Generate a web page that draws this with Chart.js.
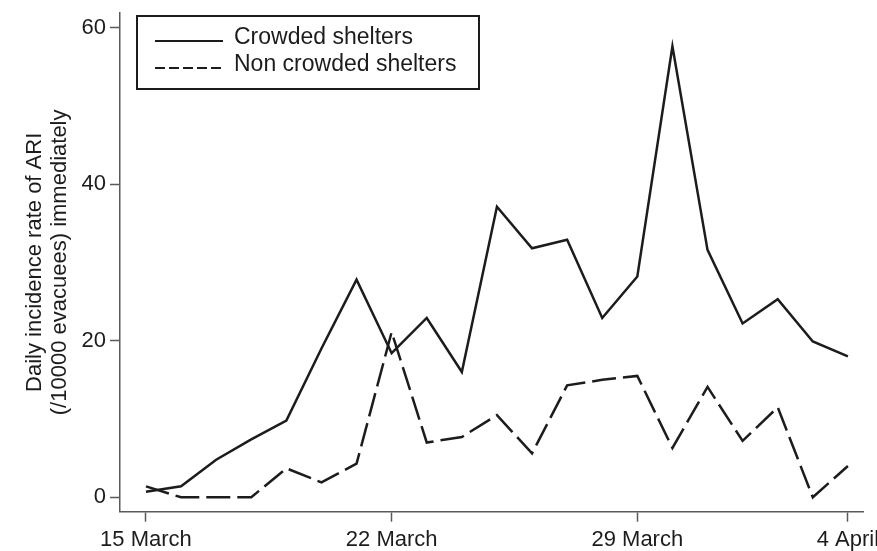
<!DOCTYPE html>
<html>
<head>
<meta charset="utf-8">
<script src="https://cdn.jsdelivr.net/npm/chart.js@4/dist/chart.umd.min.js"></script>
<style>
  html, body { margin: 0; padding: 0; background: #fff; }
  #wrap { width: 877px; height: 551px; }
</style>
</head>
<body>
<div id="wrap"><canvas id="chart" width="877" height="551"></canvas></div>
<script>
// one entry per day, 15 March .. 4 April
const dates = ['15 March', '16 March', '17 March', '18 March', '19 March', '20 March', '21 March',
  '22 March', '23 March', '24 March', '25 March', '26 March', '27 March', '28 March',
  '29 March', '30 March', '31 March', '1 April', '2 April', '3 April', '4 April'];
const crowded = [0.7, 1.4, 4.8, 7.4, 9.8, 19, 27.8, 18.4, 22.9, 16.0, 37.1, 31.8, 32.9,
  22.9, 28.2, 57.6, 31.6, 22.2, 25.3, 19.9, 18.0];
const nonCrowded = [1.4, 0, 0, 0, 3.7, 1.9, 4.3, 21.1, 7.0, 7.7, 10.5, 5.6, 14.3,
  15.0, 15.5, 6.3, 14.1, 7.2, 11.5, 0, 4.0];
const xTickLabels = ['15 March', '22 March', '29 March', '4 April'];
const yTicks = [0, 20, 40, 60];
const seriesNames = ['Crowded shelters', 'Non crowded shelters'];

const FONT = 'Liberation Sans, Arial, sans-serif';
const INK = '#1c1c1c';
const AXIS = '#5a5a5a';

function toPoints(values) {
  return values.map((v, i) => ({ x: i, y: v }));
}

// legend drawn inside the plot, like the original
const boxLegend = {
  id: 'boxLegend',
  afterDraw(chart) {
    const ctx = chart.ctx;
    const x0 = 137, y0 = 16, w = 342, h = 73;
    ctx.save();
    ctx.strokeStyle = INK;
    ctx.lineWidth = 2;
    ctx.strokeRect(x0, y0, w, h);
    ctx.font = '23px ' + FONT;
    ctx.fillStyle = INK;
    ctx.textBaseline = 'middle';
    const rows = [y0 + 22, y0 + 49];
    chart.data.datasets.forEach((ds, i) => {
      ctx.beginPath();
      ctx.setLineDash(i === 0 ? [] : [10, 4]);
      ctx.lineWidth = 2.2;
      ctx.moveTo(155, rows[i] + 3);
      ctx.lineTo(223, rows[i] + 3);
      ctx.stroke();
      ctx.setLineDash([]);
      ctx.fillText(ds.label, 234, rows[i]);
    });
    ctx.restore();
  }
};

new Chart(document.getElementById('chart'), {
  type: 'line',
  data: {
    datasets: [
      { label: seriesNames[0], data: toPoints(crowded), borderColor: INK, borderWidth: 2.5, pointRadius: 0, tension: 0 },
      { label: seriesNames[1], data: toPoints(nonCrowded), borderColor: INK, borderWidth: 2.5, borderDash: [24, 7], pointRadius: 0, tension: 0 }
    ]
  },
  options: {
    responsive: false,
    animation: false,
    layout: { padding: { top: 13, right: 14, left: 0, bottom: 0 } },
    plugins: { legend: { display: false }, tooltip: { enabled: false } },
    scales: {
      x: {
        type: 'linear',
        min: -0.74,
        max: 20.43,
        afterBuildTicks: (s) => { s.ticks = xTickLabels.map((t) => ({ value: dates.indexOf(t) })); },
        afterFit: (s) => { s.height = 39.3; s.paddingLeft = 0; s.paddingRight = 0; },
        ticks: {
          autoSkip: false,
          maxRotation: 0,
          padding: 5,
          color: INK,
          font: { family: FONT, size: 22 },
          callback: (v) => dates[v]
        },
        grid: { drawOnChartArea: false, drawTicks: true, tickLength: 10, tickWidth: 1.5, tickColor: AXIS },
        border: { color: AXIS, width: 1.5 }
      },
      y: {
        min: -1.84,
        max: 61.85,
        afterBuildTicks: (s) => { s.ticks = yTicks.map((v) => ({ value: v })); },
        afterFit: (s) => { s.width = 120; s.paddingTop = 0; s.paddingBottom = 0; },
        ticks: {
          padding: 4,
          color: INK,
          font: { family: FONT, size: 22 }
        },
        grid: { drawOnChartArea: false, drawTicks: true, tickLength: 10, tickWidth: 1.5, tickColor: AXIS },
        border: { color: AXIS, width: 1.5 },
        title: {
          display: true,
          text: ['Daily incidence rate of ARI', '(/10000 evacuees) immediately'],
          color: INK,
          font: { family: FONT, size: 22, lineHeight: 1.15 },
          padding: { top: 22, bottom: 0 }
        }
      }
    }
  },
  plugins: [boxLegend]
});
</script>
</body>
</html>
